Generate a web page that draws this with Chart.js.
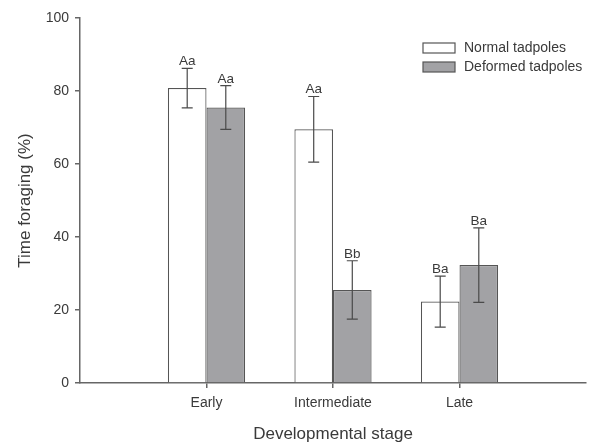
<!DOCTYPE html>
<html>
<head>
<meta charset="utf-8">
<script src="https://cdn.jsdelivr.net/npm/chart.js@4/dist/chart.umd.min.js"></script>
<style>
  html, body { margin: 0; padding: 0; background: #ffffff; }
  #wrap { width: 593px; height: 448px; }
</style>
</head>
<body>
<div id="wrap"><canvas id="chart" width="593" height="448"></canvas></div>
<script>
// Developmental stages on the x axis
const stages = ['Early', 'Intermediate', 'Late'];

// Mean time spent foraging (%)
const normalMeans = [80.8, 69.5, 22.3];
const deformedMeans = [75.5, 25.5, 32.3];

// Error bar half-widths (%)
const normalErr = [5.4, 9.0, 7.0];
const deformedErr = [6.0, 8.0, 10.2];

// Significance letters above each bar
const normalLetters = ['Aa', 'Aa', 'Ba'];
const deformedLetters = ['Aa', 'Bb', 'Ba'];

// Y axis ticks
const yTicks = [0, 20, 40, 60, 80, 100];

const seriesNames = ['Normal tadpoles', 'Deformed tadpoles'];

// Empty slots at both ends so the stages sit at 1, 2, 3 on a 0..4 axis
const labels = [''].concat(stages, ['']);
const pad = arr => [null].concat(arr, [null]);

const AXIS = '#666666';
const TEXT = '#3a3a3a';
const FONT = "'Liberation Sans', Arial, sans-serif";

const errorBars = {
  id: 'errorBars',
  afterDatasetsDraw(chart) {
    const ctx = chart.ctx;
    const y = chart.scales.y;
    chart.data.datasets.forEach((ds, di) => {
      const meta = chart.getDatasetMeta(di);
      meta.data.forEach((bar, i) => {
        const v = ds.data[i];
        if (v === null || v === undefined) return;
        const e = ds.errors[i];
        const x = bar.x;
        const yt = y.getPixelForValue(v + e);
        const yb = y.getPixelForValue(v - e);
        ctx.save();
        ctx.strokeStyle = '#4a4a4a';
        ctx.lineWidth = 1.2;
        ctx.beginPath();
        ctx.moveTo(x, yt); ctx.lineTo(x, yb);
        ctx.moveTo(x - 5.5, yt); ctx.lineTo(x + 5.5, yt);
        ctx.moveTo(x - 5.5, yb); ctx.lineTo(x + 5.5, yb);
        ctx.stroke();
        ctx.fillStyle = TEXT;
        ctx.font = '13.5px ' + FONT;
        ctx.textAlign = 'center';
        ctx.textBaseline = 'alphabetic';
        ctx.fillText(ds.letters[i], x, yt - 3);
        ctx.restore();
      });
    });
  }
};

const boxLegend = {
  id: 'boxLegend',
  afterDraw(chart) {
    const ctx = chart.ctx;
    const x0 = 423, y0 = 43, w = 32, h = 10, gap = 19;
    chart.data.datasets.forEach((ds, i) => {
      const yy = y0 + i * gap;
      ctx.save();
      ctx.fillStyle = ds.backgroundColor;
      ctx.fillRect(x0, yy, w, h);
      ctx.strokeStyle = '#555555';
      ctx.lineWidth = 1.2;
      ctx.strokeRect(x0, yy, w, h);
      ctx.fillStyle = TEXT;
      ctx.font = '14px ' + FONT;
      ctx.textAlign = 'left';
      ctx.textBaseline = 'middle';
      ctx.fillText(ds.label, x0 + 41, yy + h / 2 + 0.5);
      ctx.restore();
    });
  }
};

new Chart(document.getElementById('chart'), {
  type: 'bar',
  data: {
    labels: labels,
    datasets: [
      {
        label: seriesNames[0],
        data: pad(normalMeans),
        errors: pad(normalErr),
        letters: pad(normalLetters),
        backgroundColor: '#ffffff',
        borderColor: '#555555',
        borderWidth: 1.2,
        categoryPercentage: 0.61,
        barPercentage: 1.0
      },
      {
        label: seriesNames[1],
        data: pad(deformedMeans),
        errors: pad(deformedErr),
        letters: pad(deformedLetters),
        backgroundColor: '#a2a2a5',
        borderColor: '#555555',
        borderWidth: 1.2,
        categoryPercentage: 0.61,
        barPercentage: 1.0
      }
    ]
  },
  options: {
    responsive: false,
    animation: false,
    layout: { padding: { top: 18, right: 6, left: 0, bottom: 0 } },
    plugins: {
      legend: { display: false },
      tooltip: { enabled: false }
    },
    scales: {
      x: {
        offset: false,
        grid: {
          offset: false,
          drawOnChartArea: false,
          drawTicks: true,
          tickLength: 5,
          color: ctx => (ctx.index === 0 || ctx.index === labels.length - 1) ? 'rgba(0,0,0,0)' : AXIS,
          lineWidth: 1.5
        },
        border: { color: AXIS, width: 1.5 },
        ticks: {
          color: TEXT,
          font: { family: FONT, size: 14 },
          padding: 7,
          maxRotation: 0,
          autoSkip: false
        },
        title: {
          display: true,
          text: 'Developmental stage',
          color: TEXT,
          font: { family: FONT, size: 17 },
          padding: { top: 3, bottom: 3 }
        },
        afterFit(scale) { scale.height = 65; }
      },
      y: {
        min: 0,
        max: 100,
        afterBuildTicks(scale) { scale.ticks = yTicks.map(v => ({ value: v })); },
        grid: {
          drawOnChartArea: false,
          drawTicks: true,
          tickLength: 5,
          color: AXIS,
          lineWidth: 1.5
        },
        border: { color: AXIS, width: 1.5 },
        ticks: {
          color: TEXT,
          font: { family: FONT, size: 14 },
          padding: 6
        },
        title: {
          display: true,
          text: 'Time foraging (%)',
          color: TEXT,
          font: { family: FONT, size: 17 },
          padding: { top: 15, bottom: 4 }
        },
        afterFit(scale) { scale.width = 80; }
      }
    }
  },
  plugins: [errorBars, boxLegend]
});
</script>
</body>
</html>
